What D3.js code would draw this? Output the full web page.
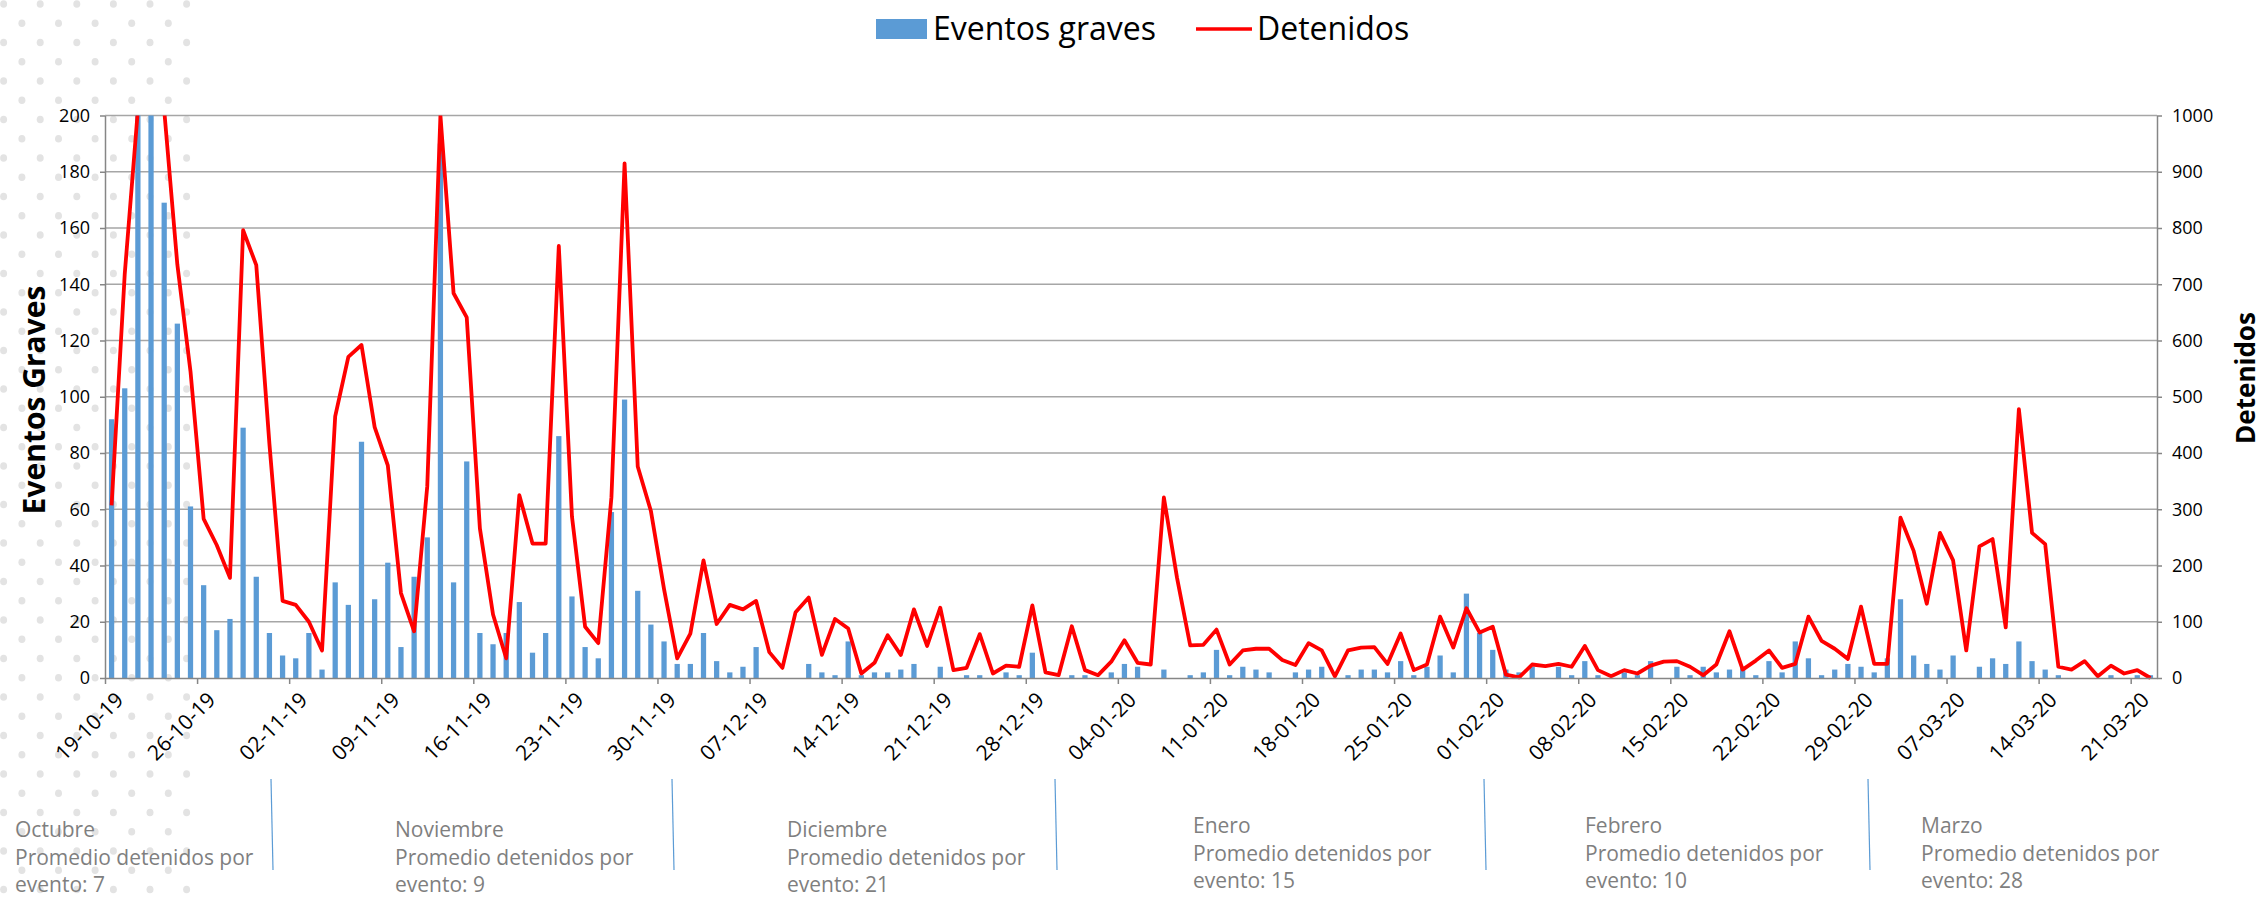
<!DOCTYPE html>
<html>
<head>
<meta charset="utf-8">
<script src="https://cdn.jsdelivr.net/npm/d3@7/dist/d3.min.js"></script>
<style>
  body { margin: 0; background: #fff; }
  svg { display: block; }
  text { font-family: "Open Sans", Lato, sans-serif; }
</style>
</head>
<body>
<div id="chart"></div>
<script>
// first day of the daily series (19-10-19), one value per day up to 23-03-20
var startDate = new Date(2019, 9, 19);

// Eventos graves (left axis), values above 200 are cut by the chart
var eventos = [
  92, 103, 240, 225, 169, 126, 61, 33, 17, 21, 89, 36, 16, 8, 7, 16, 3, 34, 26, 84,
  28, 41, 11, 36, 50, 190, 34, 77, 16, 12, 16, 27, 9, 16, 86, 29, 11, 7, 59, 99,
  31, 19, 13, 5, 5, 16, 6, 2, 4, 11, 0, 0, 0, 5, 2, 1, 13, 1, 2, 2,
  3, 5, 0, 4, 0, 1, 1, 0, 2, 1, 9, 0, 0, 1, 1, 0, 2, 5, 4, 0,
  3, 0, 1, 2, 10, 1, 4, 3, 2, 0, 2, 3, 4, 0, 1, 3, 3, 2, 6, 1,
  4, 8, 2, 30, 16, 10, 3, 2, 4, 0, 4, 1, 6, 1, 0, 2, 1, 6, 0, 4,
  1, 4, 2, 3, 4, 1, 6, 2, 13, 7, 1, 3, 5, 4, 2, 7, 28, 8, 5, 3,
  8, 0, 4, 7, 5, 13, 6, 3, 1, 0, 0, 0, 1, 0, 1, 1
];

// Detenidos (right axis), values above 1000 are cut by the chart
var detenidos = [
  307, 718, 1010, 1250, 1010, 735, 545, 283, 236, 178, 796, 734, 416, 137, 130, 100, 49, 465, 571, 592,
  446, 378, 151, 83, 341, 1000, 684, 641, 266, 113, 35, 325, 239, 239, 768, 287, 91, 62, 321, 915,
  376, 297, 158, 35, 79, 209, 96, 130, 122, 137, 46, 18, 117, 143, 41, 105, 88, 8, 27, 76,
  41, 122, 57, 125, 14, 18, 78, 8, 22, 20, 129, 10, 5, 92, 14, 5, 29, 67, 27, 24,
  321, 178, 58, 59, 86, 24, 49, 52, 52, 32, 23, 62, 49, 3, 49, 54, 55, 25, 79, 14,
  24, 109, 54, 124, 81, 91, 6, 1, 24, 21, 25, 20, 57, 14, 3, 14, 8, 22, 29, 30,
  20, 5, 24, 83, 15, 31, 49, 18, 25, 109, 66, 52, 34, 127, 25, 25, 285, 226, 132, 258,
  209, 49, 234, 247, 90, 478, 258, 238, 20, 15, 30, 3, 22, 8, 14, 0
];

var meses = ["Octubre", "Noviembre", "Diciembre", "Enero", "Febrero", "Marzo"];
var promedios = [7, 9, 21, 15, 10, 28];
var leftTicks = [0, 20, 40, 60, 80, 100, 120, 140, 160, 180, 200];
var rightTicks = [0, 100, 200, 300, 400, 500, 600, 700, 800, 900, 1000];

// layout of the notes under the chart
var notaX = [15, 395, 787, 1193, 1585, 1921];
var notaY = [837, 837, 837, 833, 833, 833];
var separadorX = [271, 672, 1055, 1484, 1868];

var W = 2263, H = 897;
var pLeft = 105, pRight = 2157, pTop = 115.5, pBottom = 678;
var n = eventos.length;
var fmt = d3.timeFormat("%d-%m-%y");

var svg = d3.select("#chart").append("svg")
  .attr("width", W)
  .attr("height", H);

// dotted background on the left side
var dots = svg.append("g").attr("fill", "#e3e3e3");
d3.range(0, 47).forEach(function (row) {
  var x0 = row % 2 ? 21.9 : 3.6;
  for (var xx = x0; xx < 192; xx += 36.6) {
    dots.append("ellipse")
      .attr("cx", xx).attr("cy", 4 + row * 19.25)
      .attr("rx", 3.5).attr("ry", 3.8);
  }
});

var x = d3.scaleLinear().domain([0, n]).range([pLeft, pRight]);
var xb = d3.scaleBand().domain(d3.range(n)).range([pLeft, pRight])
  .paddingInner(0.6).paddingOuter(0.3);
var yl = d3.scaleLinear().domain([0, 200]).range([pBottom, pTop]);
var yr = d3.scaleLinear().domain([0, 1000]).range([pBottom, pTop]);

// gridlines
svg.append("g")
  .selectAll("line")
  .data(leftTicks.slice(1))
  .enter().append("line")
    .attr("x1", pLeft).attr("x2", pRight)
    .attr("y1", function (d) { return yl(d); })
    .attr("y2", function (d) { return yl(d); })
    .attr("stroke", "#a6a6a6")
    .attr("stroke-width", 1.4);

svg.append("defs").append("clipPath")
    .attr("id", "clip")
  .append("rect")
    .attr("x", pLeft).attr("y", pTop)
    .attr("width", pRight - pLeft).attr("height", pBottom - pTop + 12);

var plot = svg.append("g").attr("clip-path", "url(#clip)");

// bars
plot.selectAll("rect.bar")
  .data(eventos)
  .enter().append("rect")
    .attr("class", "bar")
    .attr("x", function (d, i) { return xb(i); })
    .attr("y", function (d) { return yl(d); })
    .attr("width", xb.bandwidth())
    .attr("height", function (d) { return pBottom - yl(d); })
    .attr("fill", "#5b9bd5");

// line
var line = d3.line()
  .x(function (d, i) { return x(i + 0.5); })
  .y(function (d) { return yr(d); });

plot.append("path")
  .datum(detenidos)
  .attr("d", line)
  .attr("fill", "none")
  .attr("stroke", "#ff0000")
  .attr("stroke-width", 3.8)
  .attr("stroke-linejoin", "round");

// axes
function styleAxis(g) {
  g.select(".domain").attr("stroke", "#868686").attr("stroke-width", 1.5);
  g.selectAll(".tick line").attr("stroke", "#868686").attr("stroke-width", 1.5);
  g.selectAll("text").attr("fill", "#000").style("font-size", "18px")
    .style("font-family", "'Open Sans', sans-serif");
}

svg.append("g")
  .attr("transform", "translate(" + pLeft + ",0)")
  .call(d3.axisLeft(yl).tickValues(leftTicks).tickSize(5).tickSizeOuter(0).tickPadding(10))
  .call(styleAxis);

svg.append("g")
  .attr("transform", "translate(" + pRight + ",0)")
  .call(d3.axisRight(yr).tickValues(rightTicks).tickFormat(d3.format("d"))
    .tickSize(5).tickSizeOuter(0).tickPadding(10))
  .call(styleAxis);

var xAxis = svg.append("g")
  .attr("transform", "translate(0," + pBottom + ")")
  .call(d3.axisBottom(x)
    .tickValues(d3.range(0, n, 7))
    .tickFormat(function (i) { return fmt(d3.timeDay.offset(startDate, i)); })
    .tickSize(6).tickSizeOuter(0))
  .call(styleAxis);

xAxis.selectAll(".tick text")
  .attr("x", 0).attr("y", 0).attr("dy", "0.35em")
  .attr("text-anchor", "end")
  .style("font-size", "21px")
  .attr("transform", "translate(14,18) rotate(-45)");

// axis titles
svg.append("text")
  .attr("transform", "translate(45,400) rotate(-90)")
  .attr("text-anchor", "middle")
  .style("font-size", "30px").style("font-weight", "bold")
  .text("Eventos Graves");

svg.append("text")
  .attr("transform", "translate(2255,378) rotate(-90)")
  .attr("text-anchor", "middle")
  .style("font-size", "26px").style("font-weight", "bold")
  .text("Detenidos");

// legend
var legend = svg.append("g");
legend.append("rect")
  .attr("x", 876).attr("y", 19).attr("width", 51).attr("height", 20)
  .attr("fill", "#5b9bd5");
legend.append("text")
  .attr("x", 933).attr("y", 40)
  .style("font-size", "32px")
  .text("Eventos graves");
legend.append("line")
  .attr("x1", 1196).attr("x2", 1252).attr("y1", 29).attr("y2", 29)
  .attr("stroke", "#ff0000").attr("stroke-width", 3.5);
legend.append("text")
  .attr("x", 1257).attr("y", 40)
  .style("font-size", "32px")
  .text("Detenidos");

// month notes
var notas = svg.append("g").attr("fill", "#7f7f7f").style("font-size", "21px");
meses.forEach(function (m, i) {
  var t = notas.append("text").attr("x", notaX[i]).attr("y", notaY[i]);
  t.append("tspan").attr("x", notaX[i]).attr("dy", 0).text(m);
  t.append("tspan").attr("x", notaX[i]).attr("dy", 27.5).text("Promedio detenidos por");
  t.append("tspan").attr("x", notaX[i]).attr("dy", 27.5).text("evento: " + promedios[i]);
});

svg.append("g")
  .selectAll("line")
  .data(separadorX)
  .enter().append("line")
    .attr("x1", function (d) { return d; })
    .attr("x2", function (d) { return d + 2; })
    .attr("y1", 779).attr("y2", 870)
    .attr("stroke", "#5b9bd5").attr("stroke-width", 1.2);
</script>
</body>
</html>
